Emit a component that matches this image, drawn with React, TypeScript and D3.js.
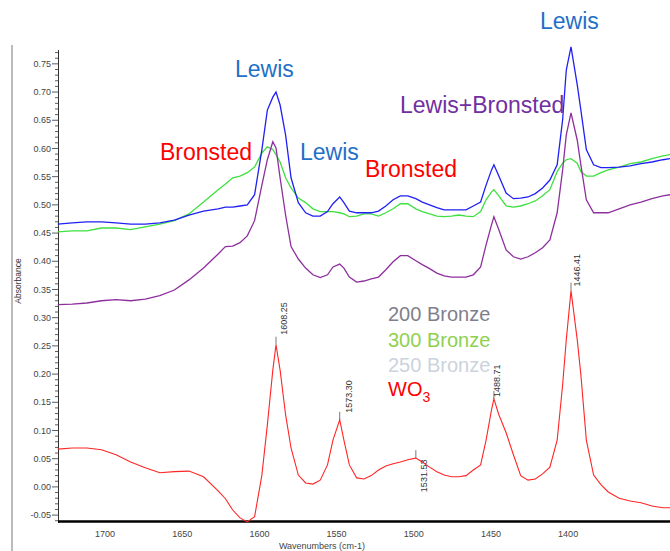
import React from "react";
import * as d3 from "d3";

// Sampled wavenumbers (cm-1), shared by every spectrum
const wavenumbers = [
  1728, 1720, 1712, 1704, 1696, 1688, 1680, 1672, 1664, 1656,
  1648, 1640, 1636, 1632, 1628, 1624, 1620, 1616, 1613, 1610,
  1608.25, 1606, 1603, 1600, 1596, 1592, 1588, 1584, 1580, 1577,
  1573.3, 1571, 1568, 1564, 1560, 1556, 1552, 1548, 1544, 1540,
  1536, 1531.53, 1528, 1524, 1520, 1516, 1512, 1508, 1504, 1500,
  1496, 1493, 1490, 1488.71, 1486, 1482, 1478, 1474, 1470, 1466,
  1462, 1458, 1454, 1451, 1449, 1446.41, 1443, 1441, 1438, 1434,
  1430, 1426, 1420, 1414, 1408, 1402, 1396, 1392,
];

const bronzeBlue = [
  0.466, 0.468, 0.47, 0.47, 0.468, 0.466, 0.466, 0.468, 0.473, 0.482,
  0.489, 0.493, 0.496, 0.496, 0.498, 0.5, 0.518, 0.598, 0.668, 0.691,
  0.7, 0.677, 0.624, 0.548, 0.504, 0.486, 0.48, 0.48, 0.488, 0.502,
  0.514, 0.504, 0.489, 0.486, 0.486, 0.486, 0.489, 0.498, 0.509, 0.516,
  0.516, 0.511, 0.505, 0.5, 0.495, 0.491, 0.491, 0.491, 0.491, 0.498,
  0.505, 0.535, 0.562, 0.571, 0.551, 0.521, 0.511, 0.512, 0.514, 0.52,
  0.53, 0.544, 0.571, 0.651, 0.739, 0.78, 0.713, 0.668, 0.598, 0.571,
  0.566, 0.566, 0.567, 0.569, 0.573, 0.576, 0.58, 0.582,
];

const bronzeGreen = [
  0.452, 0.454, 0.454, 0.459, 0.459, 0.456, 0.461, 0.466, 0.472, 0.484,
  0.505, 0.527, 0.537, 0.548, 0.551, 0.557, 0.567, 0.592, 0.603, 0.598,
  0.589, 0.576, 0.548, 0.53, 0.512, 0.504, 0.493, 0.488, 0.488, 0.488,
  0.486, 0.484, 0.479, 0.48, 0.484, 0.484, 0.48, 0.486, 0.493, 0.502,
  0.502, 0.493, 0.488, 0.484, 0.48, 0.479, 0.48, 0.482, 0.48, 0.479,
  0.488, 0.509, 0.523, 0.527, 0.516, 0.498, 0.496, 0.498, 0.502, 0.507,
  0.516, 0.527, 0.559, 0.574, 0.58, 0.582, 0.574, 0.559, 0.551, 0.551,
  0.557, 0.562, 0.567, 0.573, 0.576, 0.582, 0.587, 0.589,
];

const bronzePurple = [
  0.323, 0.324, 0.326, 0.33, 0.332, 0.33, 0.333, 0.339, 0.349, 0.367,
  0.388, 0.413, 0.426, 0.427, 0.433, 0.445, 0.472, 0.535, 0.58, 0.612,
  0.601, 0.548, 0.482, 0.426, 0.404, 0.388, 0.376, 0.371, 0.376, 0.39,
  0.395, 0.388, 0.372, 0.363, 0.365, 0.369, 0.372, 0.385, 0.399, 0.41,
  0.41, 0.401, 0.394, 0.387, 0.379, 0.374, 0.372, 0.372, 0.372, 0.376,
  0.39, 0.429, 0.465, 0.479, 0.456, 0.42, 0.408, 0.404, 0.408, 0.415,
  0.424, 0.438, 0.486, 0.562, 0.624, 0.663, 0.615, 0.571, 0.509, 0.486,
  0.486, 0.486, 0.493, 0.5, 0.505, 0.511, 0.516, 0.518,
];

const wo3 = [
  0.067, 0.069, 0.069, 0.066, 0.057, 0.044, 0.034, 0.025, 0.027, 0.028,
  0.018, -0.007, -0.021, -0.041, -0.055, -0.062, -0.053, 0.021, 0.11, 0.207,
  0.252, 0.207, 0.128, 0.069, 0.021, 0.007, 0.005, 0.012, 0.039, 0.083,
  0.119, 0.083, 0.039, 0.016, 0.014, 0.02, 0.03, 0.037, 0.041, 0.044,
  0.048, 0.051, 0.044, 0.035, 0.027, 0.021, 0.018, 0.018, 0.02, 0.03,
  0.039, 0.083, 0.137, 0.156, 0.128, 0.096, 0.057, 0.02, 0.012, 0.014,
  0.023, 0.035, 0.083, 0.181, 0.261, 0.348, 0.261, 0.199, 0.083, 0.021,
  0.004, -0.009, -0.02, -0.025, -0.028, -0.034, -0.037, -0.037,
];

// Peak positions marked on the WO3 trace
const wo3Peaks = [1608.25, 1573.3, 1531.53, 1488.71, 1446.41];

// Axis tick labels
const xTickLabels = [1700, 1650, 1600, 1550, 1500, 1450, 1400];
const yTickLabels = [
  -0.05, 0, 0.05, 0.1, 0.15, 0.2, 0.25, 0.3, 0.35, 0.4, 0.45, 0.5, 0.55,
  0.6, 0.65, 0.7, 0.75,
];

// Legend entries
const legendNames = ["200 Bronze", "300 Bronze", "250 Bronze"];

const FONT = "'Liberation Sans', Arial, Helvetica, sans-serif";

export default function App() {
  const left = 58;
  const right = 670;
  const top = 52;
  const bottom = 523;

  const x = d3.scaleLinear().domain([1727.85, 1392.1]).range([left, right]);
  const xAxis = d3.scaleLinear().domain([1730.5, 1334]).range([left, right]);
  const y = d3.scaleLinear().domain([-0.064, 0.771]).range([bottom, top]);

  const path = (vals: number[]) =>
    d3
      .line<number>()
      .x((_, i) => x(wavenumbers[i]))
      .y((v) => y(v))(vals) ?? "";

  const minorTicks = d3.range(-6, 78).map((i) => i / 100);

  // vertical gap between each peak and the bottom of its rotated label
  const labelGap = [10, 7, -34, 2, 4];
  const labelDx = [11, 12, 11, 6, 9];

  const legendColors = ["#7f7f8c", "#8fd14f", "#cbd3de"];

  return (
    <svg
      width={670}
      height={551}
      style={{ position: "absolute", left: 0, top: 0, background: "#fff" }}
      fontFamily={FONT}
    >
      <rect x={0} y={0} width={670} height={551} fill="#fff" />
      {/* outer frame edge */}
      <line x1={12} y1={45} x2={12} y2={551} stroke="#777" strokeWidth={1} />

      {/* y axis */}
      <line x1={left + 0.5} y1={top - 2} x2={left + 0.5} y2={bottom} stroke="#333" strokeWidth={1} />
      {minorTicks.map((t) => {
        const major = Math.abs(Math.round(t * 100) % 5) === 0;
        return (
          <line
            key={t}
            x1={left - (major ? 6 : 3)}
            x2={left}
            y1={y(t)}
            y2={y(t)}
            stroke="#333"
            strokeWidth={0.8}
          />
        );
      })}
      {yTickLabels.map((t) => (
        <text
          key={t}
          x={left - 7}
          y={y(t)}
          dy="0.35em"
          textAnchor="end"
          fontSize={9}
          fill="#444"
        >
          {t.toFixed(2)}
        </text>
      ))}
      <text
        transform={`translate(21,281) rotate(-90)`}
        textAnchor="middle"
        fontSize={8.5}
        fill="#333"
      >
        Absorbance
      </text>

      {/* x axis */}
      <line x1={left} y1={521.5} x2={right} y2={521.5} stroke="#000" strokeWidth={2.5} />
      {xTickLabels.map((t) => (
        <text key={t} x={xAxis(t)} y={537} textAnchor="middle" fontSize={9} fill="#444">
          {t}
        </text>
      ))}
      <text x={322} y={549} textAnchor="middle" fontSize={9} fill="#444">
        Wavenumbers (cm-1)
      </text>

      {/* spectra */}
      <path d={path(bronzeGreen)} fill="none" stroke="#3fe03f" strokeWidth={1.3} />
      <path d={path(bronzePurple)} fill="none" stroke="#8e2f9e" strokeWidth={1.3} />
      <path d={path(bronzeBlue)} fill="none" stroke="#2020f5" strokeWidth={1.3} />
      <path d={path(wo3)} fill="none" stroke="#ff2525" strokeWidth={1.1} />

      {/* legend */}
      {legendNames.map((n, i) => (
        <text key={n} x={388} y={321 + i * 25.5} fontSize={20} fill={legendColors[i]}>
          {n}
        </text>
      ))}
      <text x={388} y={396} fontSize={20} fill="#ff0000">
        WO
        <tspan fontSize={14} dy={6}>
          3
        </tspan>
      </text>

      {/* peak labels */}
      {wo3Peaks.map((p, i) => {
        const idx = wavenumbers.indexOf(p);
        const px = x(p);
        const py = y(wo3[idx]);
        return (
          <g key={p}>
            <line x1={px} x2={px} y1={py} y2={py - 8} stroke="#555" strokeWidth={0.8} />
            <text
              transform={`translate(${px + labelDx[i]},${py - labelGap[i]}) rotate(-90)`}
              fontSize={9}
              fill="#333"
            >
              {p.toFixed(2)}
            </text>
          </g>
        );
      })}

      {/* band assignments */}
      <text x={235} y={77} fontSize={23} fill="#1f70c8">Lewis</text>
      <text x={160} y={160} fontSize={23} fill="#ff0000">Bronsted</text>
      <text x={300} y={160} fontSize={23} fill="#1f70c8">Lewis</text>
      <text x={365} y={177} fontSize={23} fill="#ff0000">Bronsted</text>
      <text x={400} y={113} fontSize={23} fill="#7030a0">Lewis+Bronsted</text>
      <text x={540} y={29} fontSize={23} fill="#1f70c8">Lewis</text>
    </svg>
  );
}
